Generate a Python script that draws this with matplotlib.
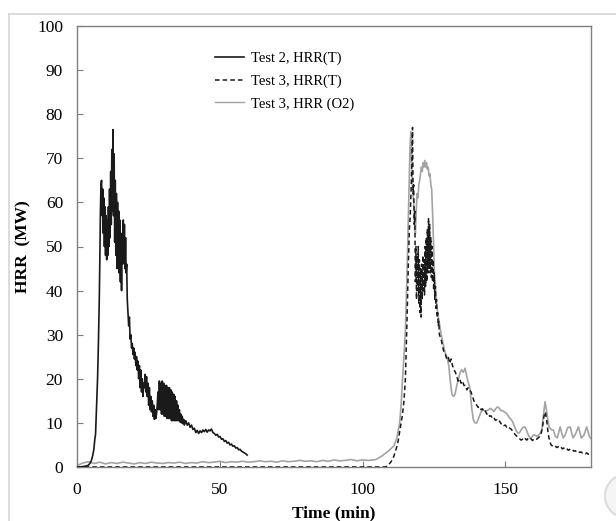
import numpy as np
import matplotlib.pyplot as plt
from matplotlib.lines import Line2D
from matplotlib.patches import Circle

plt.rcParams['font.family'] = ['Liberation Serif', 'DejaVu Serif']

# ---- Test 2, HRR(T) ----
t2_rise_time = [0, 1, 2, 3, 4, 4.5, 5, 5.5, 5.9, 6.2, 6.5, 6.8, 7.0, 7.2, 7.5, 7.8, 8.0, 8.2, 8.4]
t2_rise_hrr = [0, 0, 0.1, 0.2, 0.4, 0.8, 1.4, 2.6, 4, 6, 7.5, 13, 16, 20, 28, 38, 47, 58, 64]
# 8.6 .. 17.6 min every 0.2 min
t2_peak_start, t2_peak_step = 8.6, 0.2
t2_peak_hrr = [65, 57, 63, 53, 61, 50, 59, 48, 57, 47,
               56, 48, 59, 50, 63, 52, 67, 55, 72, 58,
               76.5, 57, 71, 51, 65, 48, 62, 45, 60, 46,
               58, 44, 56, 42, 52, 40, 53, 46, 56, 47,
               55, 45, 52, 44, 46, 38]
# 17.85 .. 37.6 min every 0.25 min
t2_decay_start, t2_decay_step = 17.85, 0.25
t2_decay_hrr = [35, 32, 34, 29, 30, 27, 28, 25.5, 27, 24.5,
                26, 23, 25, 22, 24, 20, 23, 18, 22, 17,
                20, 16, 19, 18, 21, 17, 20.5, 16, 19, 14,
                18, 13, 16, 12.5, 15, 11.5, 14, 10.8, 13, 11,
                12, 14, 17, 13, 19.5, 13, 19, 12, 19.5, 12,
                19, 11.5, 18.5, 11.5, 18.5, 11, 18, 11, 18, 11,
                17.5, 10.5, 17, 10.5, 16.5, 10.5, 16, 10.5, 15, 10.5,
                14, 10.5, 13, 10.2, 12, 10, 11.5, 9.8, 10.8, 9.5]
# 38.1 .. 59.6 min every 0.5 min
t2_tail_start, t2_tail_step = 38.1, 0.5
t2_tail_hrr = [10.5, 9.5, 10, 9, 9.5, 8.5, 8.8, 7.8, 8.3, 7.6,
               8.2, 7.8, 8.4, 8, 8.5, 7.9, 8.4, 8.2, 8.6, 7.8,
               7.6, 7.2, 7.4, 6.8, 6.9, 6.3, 6.4, 5.8, 6, 5.4,
               5.6, 5, 5.2, 4.7, 4.8, 4.3, 4.4, 3.9, 4, 3.6,
               3.4, 3.2, 3, 2.7]

# ---- Test 3, HRR(T) ----
t3_base_time = [0, 60, 108]
t3_base_hrr = [0, 0, 0]
t3_rise_time = [109, 110, 111, 112, 112.5, 113, 113.5, 114, 114.5, 115, 115.3, 115.6,
                116, 116.4, 116.7, 117, 117.3, 117.5]
t3_rise_hrr = [0.4, 1.2, 2.5, 4.6, 6, 8, 10, 12, 15, 20, 27, 34, 45, 54, 57, 63, 70, 77]
# 117.7 .. 126.9 min every 0.2 min
t3_peak_start, t3_peak_step = 117.7, 0.2
t3_peak_hrr = [62, 64, 55, 58, 42, 50, 38, 48, 40, 50,
               37, 47, 35, 45, 34, 46, 38, 48, 40, 47,
               39, 50, 41, 52, 42, 54, 44, 56.5, 45, 55,
               44, 52, 43, 50, 42, 47, 40, 44, 38, 41,
               36, 38, 34, 35, 32, 33, 30]
# 127.5 .. 180 min every 0.5 min
t3_decay_start, t3_decay_step = 127.5, 0.5
t3_decay_hrr = [29, 27.5, 26, 25.5, 24.5, 25, 23.5, 24.5, 23, 22,
                21.5, 20.5, 19.5, 20, 19, 19.5, 18.5, 18.5, 17.5, 18,
                17.5, 17, 16, 15, 14.5, 14, 13.5, 13.7, 13, 13.2,
                12.5, 12.7, 12, 12.2, 11.5, 11.6, 11, 11.2, 10.6, 10.7,
                10.2, 10.4, 9.8, 9.9, 9.4, 9.5, 9, 9.2, 8.8, 8.6,
                8.2, 7.8, 7.3, 7, 6.6, 6.4, 6.1, 6.3, 6, 6.4,
                6.1, 6.5, 6.2, 6.4, 6, 6.3, 6.5, 6.3, 6.6, 6.9,
                7.5, 9, 11.4, 12.5, 10.5, 7.5, 6, 5, 4.8, 4.6,
                4.8, 4.4, 4.6, 4.3, 4.5, 4.1, 4.3, 4, 4.2, 3.8,
                4, 3.7, 3.9, 3.6, 3.7, 3.4, 3.6, 3.3, 3.4, 3.2,
                3.3, 3.0, 3.2, 2.9, 3.1, 2.8]

# ---- Test 3, HRR (O2) ----
# 0 .. 104 min every 2 min
o2_base_start, o2_base_step = 0, 2
o2_base_hrr = [0.3, 0.9, 1.2, 0.8, 1.1, 0.7, 1.0, 0.8, 1.1, 0.9,
               0.7, 1.0, 0.8, 1.1, 0.9, 0.8, 1.0, 0.9, 1.1, 0.8,
               1.0, 0.9, 1.2, 1.0, 1.1, 1.3, 1.0, 1.2, 1.1, 1.3,
               1.1, 1.2, 1.4, 1.2, 1.3, 1.1, 1.4, 1.2, 1.3, 1.5,
               1.3, 1.4, 1.2, 1.5, 1.3, 1.6, 1.4, 1.5, 1.7, 1.4,
               1.6, 1.5, 1.6]
o2_time = [105, 106, 107, 108, 109, 110, 111, 112, 113, 113.5, 114, 114.5, 115, 115.5, 116,
           116.3, 116.6, 116.9, 117.3, 117.6, 117.9, 118.2, 118.5, 118.8, 119.1, 119.4, 119.7,
           120, 120.3, 120.6, 120.9, 121.2, 121.5, 121.8, 122.1, 122.4, 122.7, 123, 123.3,
           123.6, 123.9, 124.2, 124.5, 124.8, 125.1, 125.4, 125.8, 126.3, 126.8, 127.3, 128,
           128.9, 129.5, 130.2, 130.8, 131.3, 131.8, 132.4, 133, 133.6, 134.2, 134.7, 135.3,
           135.9, 136.5, 137.1, 137.6, 138.2, 138.8, 139.4, 140, 140.6, 141.2, 141.8, 142.4,
           143, 143.6, 144.2, 144.8, 145.4, 146, 146.6, 147.2, 147.8, 148.4, 149, 149.6,
           150.2, 150.8, 151.4, 152, 152.6, 153.2, 153.8, 154.4, 155, 155.6, 156.2, 156.9,
           157.5, 158.1, 158.7, 159.3, 159.9, 160.5, 161, 161.6, 162.2, 162.8, 163.3, 163.9,
           164.4, 164.9, 165.4, 165.7, 166.2, 166.8, 167.5, 168.2, 169.2, 170.2, 170.9,
           171.8, 172.7, 173.7, 174.6, 175.6, 176.6, 177.5, 178.5, 179.5, 180]
o2_hrr = [1.8, 2.2, 2.6, 3.1, 3.6, 4.2, 4.8, 6.5, 10, 14, 20, 25, 31, 42, 56,
          65, 72, 76, 66, 62, 60, 56, 53, 58, 62, 61, 64,
          65, 66.5, 68, 67, 69, 68, 69.5, 68, 69, 67.5, 68, 66,
          66.5, 64, 63, 58, 52, 45, 42, 38, 35, 33, 31, 28.5,
          26, 25, 23, 19, 16.5, 16, 16.5, 18.5, 20, 21.5, 22, 21.5,
          22.4, 20.5, 19, 18, 13.5, 10.7, 10, 10, 11, 12, 12.8, 12.9,
          12.6, 12.8, 13, 13.3, 13, 12.6, 13.2, 13.6, 13.4, 12.8, 12.8, 12.5,
          12.3, 11.8, 11.2, 10.8, 10.2, 9.2, 8.2, 7.7, 7.8, 8.5, 9, 9.1,
          8.2, 7.2, 6.5, 6.8, 7.3, 7.2, 6.9, 7.2, 7.6, 8.5, 11.5, 14.8,
          13, 10.5, 9, 8.8, 8.4, 8.4, 7, 6.6, 9.1, 6.6, 7.2,
          8.9, 9.1, 6.6, 7.5, 9.1, 6.6, 7.2, 9.1, 6.8, 6.5]


def regular(start, step, values):
    return start + step * np.arange(len(values))


t2_time = np.concatenate([t2_rise_time,
                          regular(t2_peak_start, t2_peak_step, t2_peak_hrr),
                          regular(t2_decay_start, t2_decay_step, t2_decay_hrr),
                          regular(t2_tail_start, t2_tail_step, t2_tail_hrr)])
t2_hrr = np.concatenate([t2_rise_hrr, t2_peak_hrr, t2_decay_hrr, t2_tail_hrr])

t3_time = np.concatenate([t3_base_time, t3_rise_time,
                          regular(t3_peak_start, t3_peak_step, t3_peak_hrr),
                          regular(t3_decay_start, t3_decay_step, t3_decay_hrr)])
t3_hrr = np.concatenate([t3_base_hrr, t3_rise_hrr, t3_peak_hrr, t3_decay_hrr])

o2_all_time = np.concatenate([regular(o2_base_start, o2_base_step, o2_base_hrr), o2_time])
o2_all_hrr = np.concatenate([o2_base_hrr, o2_hrr])

fig = plt.figure(figsize=(6.16, 5.21), dpi=100)
ax = fig.add_axes([77 / 616, 54 / 521, 514 / 616, 441 / 521])

ax.plot(t2_time, t2_hrr, color='#1a1a1a', lw=1.2, label='Test 2, HRR(T)', zorder=4)
ax.plot(t3_time, t3_hrr, color='#1a1a1a', lw=1.1, ls=(0, (3, 2)), label='Test 3, HRR(T)', zorder=3)
ax.plot(o2_all_time, o2_all_hrr, color='#a3a3a3', lw=1.2, label='Test 3, HRR (O2)', zorder=2)

ax.set_xlim(0, 180)
ax.set_ylim(0, 100)
ax.set_xticks([0, 50, 100, 150])
ax.set_yticks(range(0, 101, 10))
for s in ax.spines.values():
    s.set_color('#7f7f7f')
    s.set_linewidth(1.0)
ax.tick_params(direction='in', length=4, color='#7f7f7f', labelsize=12.5, pad=11)
ax.tick_params(axis='y', pad=10)

ax.set_xlabel('Time (min)', fontsize=12.5, fontweight='bold', labelpad=5)
ax.set_ylabel('HRR  (MW)', fontsize=12.5, fontweight='bold', labelpad=4)

leg = ax.legend(loc='upper left', bbox_to_anchor=(0.268, 0.942), frameon=False,
                fontsize=10.5, handlelength=2.0, handletextpad=0.5,
                labelspacing=0.64, borderpad=0, borderaxespad=0)
leg.get_lines()[2].set_linewidth(1.0)

# light page frame and the round button at the lower right
fig.add_artist(Line2D([8.5 / 616, 8.5 / 616], [0, 507 / 521], transform=fig.transFigure,
                      color='#d6d6d6', lw=1.2))
fig.add_artist(Line2D([8.5 / 616, 1], [507 / 521, 507 / 521], transform=fig.transFigure,
                      color='#d6d6d6', lw=1.2))
fig.add_artist(Circle((6.27, 0.25), 0.22, transform=fig.dpi_scale_trans,
                      facecolor='#f5f5f5', edgecolor='#dcdcdc', lw=1.5))

fig.savefig('out.png', dpi=100)
